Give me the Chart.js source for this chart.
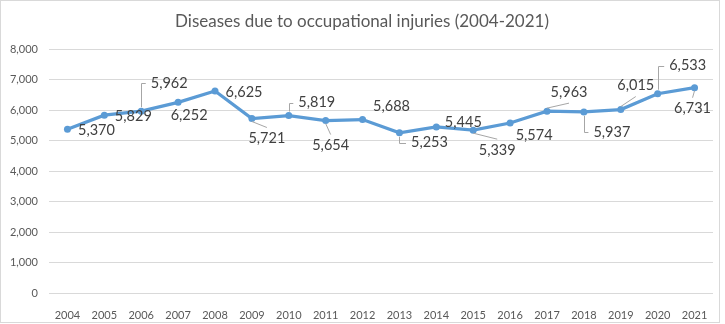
<!DOCTYPE html>
<html>
<head>
<meta charset="utf-8">
<script src="https://cdn.jsdelivr.net/npm/chart.js@4/dist/chart.umd.min.js"></script>
<style>
    body { margin: 0; background: #fff; }
    canvas { display: block; }
</style>
</head>
<body>
<canvas id="chart" width="725" height="324"></canvas>
<script>
const years = ['2004', '2005', '2006', '2007', '2008', '2009', '2010', '2011', '2012',
    '2013', '2014', '2015', '2016', '2017', '2018', '2019', '2020', '2021']
const cases = [5370, 5829, 5962, 6252, 6625, 5721, 5819, 5654, 5688,
    5253, 5445, 5339, 5574, 5963, 5937, 6015, 6533, 6731]
const yTicks = [0, 1000, 2000, 3000, 4000, 5000, 6000, 7000, 8000]

// where each value label sits relative to its point: [dx, dy, leader]
const labelPlacement = [
    [29, 1, null], [29, 1, null], [28, -28, 'elbow'], [11, 13, null],
    [29, 1, null], [15, 20, 'line'], [28, -13, 'elbow'], [5, 25, 'line'],
    [29, -13, null], [30, 10, 'elbow'], [27, -5, null], [24, 20, 'line'],
    [24, 12, null], [22, -19, 'line'], [28, 20, 'elbow'], [15, -24, 'line'],
    [30, -28, 'elbow'], [-2, 21, 'line']
]

const ctx = document.getElementById('chart').getContext('2d')
const fontFamily = 'Lato, "Open Sans", sans-serif'

const frame = {
    id: 'frame',
    beforeDraw(chart) {
        const c = chart.ctx
        c.save()
        c.fillStyle = '#fff'
        c.fillRect(0, 0, chart.width, chart.height)
        c.strokeStyle = '#d9d9d9'
        c.lineWidth = 1
        c.strokeRect(0.5, 0.5, 719, 322)
        c.fillStyle = '#595959'
        c.font = `17px ${fontFamily}`
        c.textAlign = 'center'
        c.textBaseline = 'middle'
        c.fillText('Diseases due to occupational injuries (2004-2021)', 362, 22)
        c.restore()
    }
}

const valueLabels = {
    id: 'valueLabels',
    afterDatasetsDraw(chart) {
        const c = chart.ctx
        const points = chart.getDatasetMeta(0).data
        c.save()
        c.font = `14.5px ${fontFamily}`
        c.textAlign = 'center'
        c.textBaseline = 'middle'
        points.forEach((pt, i) => {
            const [dx, dy, leader] = labelPlacement[i]
            const text = cases[i].toLocaleString('en-US')
            const tx = pt.x + dx
            const ty = pt.y + dy
            const half = c.measureText(text).width / 2
            c.strokeStyle = '#a6a6a6'
            c.lineWidth = 1
            if (leader == 'elbow') {
                const dir = dy < 0 ? -1 : 1
                c.beginPath()
                c.moveTo(Math.round(pt.x) + 0.5, pt.y + dir * 4)
                c.lineTo(Math.round(pt.x) + 0.5, Math.round(ty) + 0.5)
                c.lineTo(tx - half - 5, Math.round(ty) + 0.5)
                c.stroke()
            } else if (leader == 'line') {
                const dir = dy < 0 ? -1 : 1
                c.beginPath()
                c.moveTo(pt.x, pt.y + dir * 3)
                c.lineTo(tx, ty - dir * 11)
                c.stroke()
            }
            c.fillStyle = '#404040'
            c.fillText(text, tx, ty)
        })
        c.restore()
    }
}

new Chart(ctx, {
    type: 'line',
    data: {
        labels: years,
        datasets: [{
            label: 'Diseases',
            data: cases,
            borderColor: '#5b9bd5',
            backgroundColor: '#5b9bd5',
            borderWidth: 3.25,
            pointRadius: 3.5,
            pointHoverRadius: 3.5,
            pointBorderWidth: 0,
            tension: 0
        }]
    },
    options: {
        responsive: false,
        animation: false,
        events: [],
        layout: { padding: { top: 49, right: 12, bottom: 0, left: 0 } },
        plugins: {
            legend: { display: false },
            title: { display: false },
            tooltip: { enabled: false }
        },
        scales: {
            x: {
                offset: true,
                grid: { display: false },
                border: { display: false },
                ticks: {
                    color: '#595959',
                    font: { family: fontFamily, size: 11 },
                    padding: 8,
                    maxRotation: 0,
                    autoSkip: false
                },
                afterFit(scale) { scale.height = 31 }
            },
            y: {
                min: 0,
                max: 8000,
                afterBuildTicks(scale) { scale.ticks = yTicks.map(v => ({ value: v })) },
                grid: { color: '#d9d9d9', drawTicks: false },
                border: { display: false },
                ticks: {
                    color: '#595959',
                    font: { family: fontFamily, size: 11 },
                    padding: 11,
                    callback: v => v.toLocaleString('en-US')
                },
                afterFit(scale) { scale.width = 49 }
            }
        }
    },
    plugins: [frame, valueLabels]
})
</script>
</body>
</html>
